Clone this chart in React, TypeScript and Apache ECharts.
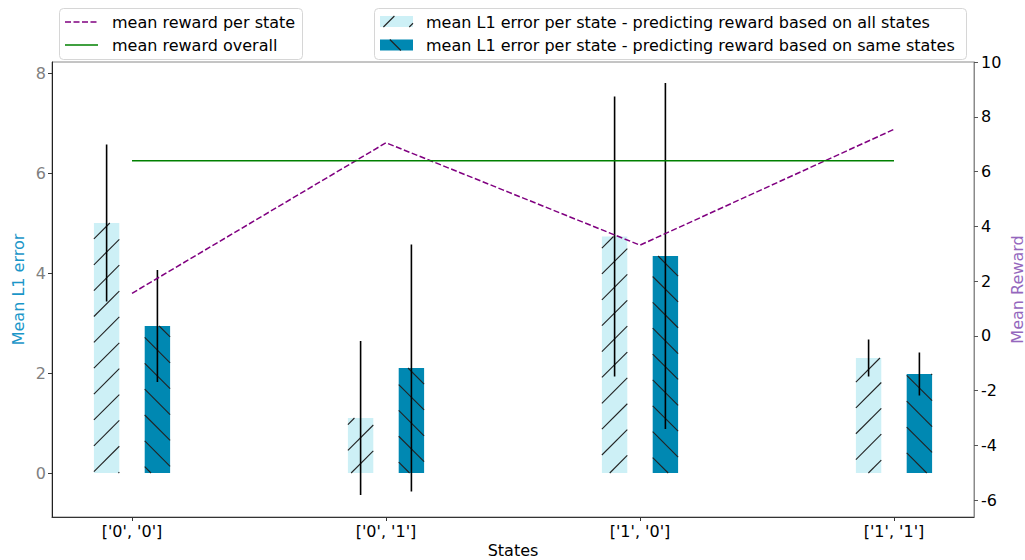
import React, { useEffect, useRef } from "react";
import * as echarts from "echarts";

const CATEGORIES = ["['0', '0']", "['0', '1']", "['1', '0']", "['1', '1']"];
const L1_ALL = [5.0, 1.1, 4.73, 2.3];
const L1_ALL_ERR = [1.57, 1.54, 2.8, 0.37];
const L1_SAME = [2.94, 2.1, 4.34, 1.98];
const L1_SAME_ERR = [1.12, 2.47, 3.46, 0.43];
const REWARD_PER_STATE = [1.55, 7.05, 3.31, 7.54];
const REWARD_OVERALL = 6.39;
const LEFT_TICKS = [0, 2, 4, 6, 8];
const RIGHT_TICKS = [-6, -4, -2, 0, 2, 4, 6, 8, 10];

const FONT = '"DejaVu Sans", sans-serif';
const CYAN = "#cdf0f6";
const TEAL = "#0088b2";
const HATCH_COLOR = "#222";
const BAR_W = 0.1;
const OFF = 0.1;
const SPACING = 25.86;
const PHASE_FWD = 22.5;
const PHASE_BACK = 11.7;

function hatch(x0: number, y0: number, x1: number, y1: number, dir: number, phase: number) {
  const segs: any[] = [];
  if (dir > 0) {
    const cMin = x0 + y0, cMax = x1 + y1;
    let k = Math.ceil((cMin - phase) / SPACING);
    for (; phase + k * SPACING <= cMax; k++) {
      const c = phase + k * SPACING;
      const lo = Math.max(x0, c - y1), hi = Math.min(x1, c - y0);
      if (hi - lo > 0.3) segs.push({ x1: lo, y1: c - lo, x2: hi, y2: c - hi });
    }
  } else {
    const cMin = y0 - x1, cMax = y1 - x0;
    let k = Math.ceil((cMin - phase) / SPACING);
    for (; phase + k * SPACING <= cMax; k++) {
      const c = phase + k * SPACING;
      const lo = Math.max(x0, y0 - c), hi = Math.min(x1, y1 - c);
      if (hi - lo > 0.3) segs.push({ x1: lo, y1: lo + c, x2: hi, y2: hi + c });
    }
  }
  return segs;
}

function barRender(offset: number, fill: string, dir: number, phase: number) {
  return (params: any, api: any) => {
    const i = api.value(0), v = api.value(1);
    const p0 = api.coord([i + offset - BAR_W / 2, v]);
    const p1 = api.coord([i + offset + BAR_W / 2, 0]);
    const x0 = Math.min(p0[0], p1[0]), x1 = Math.max(p0[0], p1[0]);
    const y0 = Math.min(p0[1], p1[1]), y1 = Math.max(p0[1], p1[1]);
    const children: any[] = [
      { type: "rect", shape: { x: x0, y: y0, width: x1 - x0, height: y1 - y0 }, style: { fill } },
    ];
    hatch(x0, y0, x1, y1, dir, phase).forEach((s) =>
      children.push({ type: "line", shape: s, style: { stroke: HATCH_COLOR, lineWidth: 1.1 } })
    );
    return { type: "group", children };
  };
}

function errRender(offset: number) {
  return (params: any, api: any) => {
    const i = api.value(0), v = api.value(1), e = api.value(2);
    const a = api.coord([i + offset, v - e]);
    const b = api.coord([i + offset, v + e]);
    return {
      type: "line",
      shape: { x1: a[0], y1: a[1], x2: b[0], y2: b[1] },
      style: { stroke: "#000", lineWidth: 1.6 },
    };
  };
}

function legendGraphics() {
  const g: any[] = [];
  const txt = (x: number, y: number, t: string) => ({
    type: "text",
    x,
    y,
    style: { text: t, font: `16px ${FONT}`, fill: "#000", verticalAlign: "middle", align: "left" },
    z: 100,
  });
  g.push({
    type: "rect",
    shape: { x: 59.5, y: 8.5, width: 243, height: 51, r: 4 },
    style: { fill: "rgba(255,255,255,0.8)", stroke: "#d6d6d6", lineWidth: 1 },
    z: 99,
  });
  g.push({
    type: "line",
    shape: { x1: 65, y1: 22, x2: 98, y2: 22 },
    style: { stroke: "#800080", lineWidth: 1.5, lineDash: [6, 2.5] },
    z: 100,
  });
  g.push(txt(112, 22, "mean reward per state"));
  g.push({
    type: "line",
    shape: { x1: 65, y1: 45, x2: 98, y2: 45 },
    style: { stroke: "#008000", lineWidth: 1.5 },
    z: 100,
  });
  g.push(txt(112, 45, "mean reward overall"));

  g.push({
    type: "rect",
    shape: { x: 374.5, y: 8.5, width: 592, height: 51, r: 4 },
    style: { fill: "rgba(255,255,255,0.8)", stroke: "#d6d6d6", lineWidth: 1 },
    z: 99,
  });
  g.push({ type: "rect", shape: { x: 380, y: 16, width: 33, height: 11 }, style: { fill: CYAN }, z: 100 });
  hatch(380, 16, 413, 27, 1, PHASE_FWD).forEach((s) =>
    g.push({ type: "line", shape: s, style: { stroke: HATCH_COLOR, lineWidth: 1.1 }, z: 101 })
  );
  g.push(txt(426, 22, "mean L1 error per state - predicting reward based on all states"));
  g.push({ type: "rect", shape: { x: 380, y: 39.5, width: 33, height: 11 }, style: { fill: TEAL }, z: 100 });
  hatch(380, 39.5, 413, 50.5, -1, PHASE_BACK).forEach((s) =>
    g.push({ type: "line", shape: s, style: { stroke: HATCH_COLOR, lineWidth: 1.1 }, z: 101 })
  );
  g.push(txt(426, 45, "mean L1 error per state - predicting reward based on same states"));
  return g;
}

export default function App() {
  const ref = useRef<HTMLDivElement>(null);
  useEffect(() => {
    if (!ref.current) return;
    const chart = echarts.init(ref.current, undefined, { renderer: "svg" });
    const idx = CATEGORIES.map((_, i) => i);
    const option: any = {
      animation: false,
      backgroundColor: "#fff",
      textStyle: { fontFamily: FONT },
      grid: {
        left: 52,
        right: 51,
        top: 62,
        bottom: 43,
        show: true,
        borderColor: "#8a8a8a",
        borderWidth: 1,
        outerBoundsMode: "none",
        containLabel: false,
      },
      xAxis: {
        type: "value",
        min: -0.315,
        max: 3.315,
        name: "States",
        nameLocation: "middle",
        nameGap: 25,
        nameMoveOverlap: false,
        nameTextStyle: { fontSize: 16, color: "#000", fontFamily: FONT },
        axisLine: { show: true, onZero: false, lineStyle: { color: "#333", width: 1 } },
        axisTick: { show: true, length: 4, customValues: idx, lineStyle: { color: "#333" } },
        axisLabel: {
          customValues: idx,
          formatter: (v: number) => CATEGORIES[Math.round(v)] ?? "",
          fontSize: 16,
          color: "#000",
          margin: 6,
          fontFamily: FONT,
        },
        splitLine: { show: false },
      },
      yAxis: [
        {
          type: "value",
          min: -0.88,
          max: 8.22,
          position: "left",
          name: "Mean L1 error",
          nameLocation: "middle",
          nameRotate: 90,
          nameGap: 26,
          nameMoveOverlap: false,
          nameTextStyle: { fontSize: 16, color: "#1a96c8", fontFamily: FONT },
          axisLine: { show: true, onZero: false, lineStyle: { color: "#222", width: 1 } },
          axisTick: { show: true, length: 4, customValues: LEFT_TICKS, lineStyle: { color: "#333" } },
          axisLabel: { customValues: LEFT_TICKS, fontSize: 16, color: "#808080", margin: 6, fontFamily: FONT },
          splitLine: { show: false },
        },
        {
          type: "value",
          min: -6.62,
          max: 10,
          position: "right",
          name: "Mean Reward",
          nameLocation: "middle",
          nameRotate: 90,
          nameGap: 35,
          nameMoveOverlap: false,
          nameTextStyle: { fontSize: 16, color: "#9467bd", fontFamily: FONT },
          axisLine: { show: true, onZero: false, lineStyle: { color: "#8a8a8a", width: 1 } },
          axisTick: { show: true, length: 4, customValues: RIGHT_TICKS, lineStyle: { color: "#555" } },
          axisLabel: { customValues: RIGHT_TICKS, fontSize: 16, color: "#000", margin: 7, fontFamily: FONT },
          splitLine: { show: false },
        },
      ],
      series: [
        {
          type: "custom",
          name: "mean L1 error per state - predicting reward based on all states",
          xAxisIndex: 0,
          yAxisIndex: 0,
          renderItem: barRender(-OFF, CYAN, 1, PHASE_FWD),
          encode: { x: 0, y: 1 },
          data: L1_ALL.map((v, i) => [i, v]),
          z: 2,
        },
        {
          type: "custom",
          name: "mean L1 error per state - predicting reward based on same states",
          xAxisIndex: 0,
          yAxisIndex: 0,
          renderItem: barRender(OFF, TEAL, -1, PHASE_BACK),
          encode: { x: 0, y: 1 },
          data: L1_SAME.map((v, i) => [i, v]),
          z: 2,
        },
        {
          type: "custom",
          xAxisIndex: 0,
          yAxisIndex: 0,
          renderItem: errRender(-OFF),
          encode: { x: 0, y: 1 },
          data: L1_ALL.map((v, i) => [i, v, L1_ALL_ERR[i]]),
          z: 3,
        },
        {
          type: "custom",
          xAxisIndex: 0,
          yAxisIndex: 0,
          renderItem: errRender(OFF),
          encode: { x: 0, y: 1 },
          data: L1_SAME.map((v, i) => [i, v, L1_SAME_ERR[i]]),
          z: 3,
        },
        {
          type: "line",
          name: "mean reward per state",
          xAxisIndex: 0,
          yAxisIndex: 1,
          data: REWARD_PER_STATE.map((v, i) => [i, v]),
          symbol: "none",
          lineStyle: { color: "#800080", width: 1.5, type: [6, 2.5] },
          z: 4,
        },
        {
          type: "line",
          name: "mean reward overall",
          xAxisIndex: 0,
          yAxisIndex: 1,
          data: [
            [0, REWARD_OVERALL],
            [CATEGORIES.length - 1, REWARD_OVERALL],
          ],
          symbol: "none",
          lineStyle: { color: "#008000", width: 1.5 },
          z: 4,
        },
      ],
      graphic: legendGraphics(),
    };
    chart.setOption(option);
    return () => chart.dispose();
  }, []);
  return (
    <div
      ref={ref}
      style={{ position: "absolute", left: 0, top: 0, width: 1025, height: 560 }}
    />
  );
}
